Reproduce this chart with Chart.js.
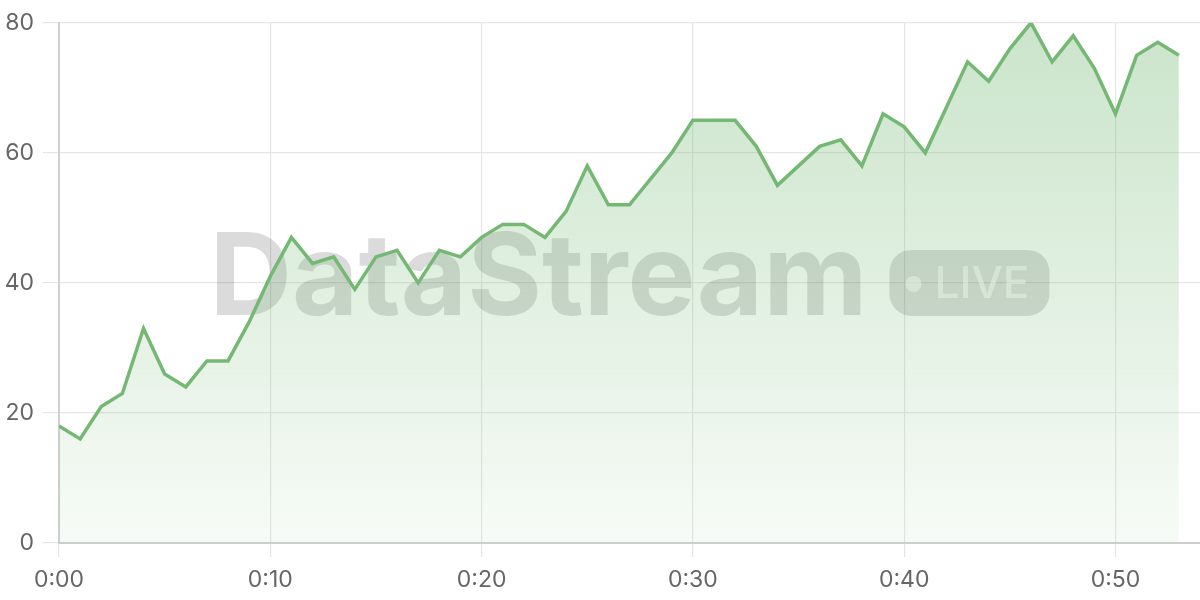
<!DOCTYPE html>
<html>
<head>
<meta charset="utf-8">
<script src="https://cdn.jsdelivr.net/npm/chart.js@4.4.6/dist/chart.umd.min.js"></script>
<style>
  html, body { margin: 0; padding: 0; background: #fff; }
  #wrap { width: 1200px; height: 600px; }
</style>
</head>
<body>
<div id="wrap"><canvas id="c"></canvas></div>
<script>
// minutes since start, one reading per minute
const minutes = [
  0, 1, 2, 3, 4, 5, 6, 7, 8, 9,
  10, 11, 12, 13, 14, 15, 16, 17, 18, 19,
  20, 21, 22, 23, 24, 25, 26, 27, 28, 29,
  30, 31, 32, 33, 34, 35, 36, 37, 38, 39,
  40, 41, 42, 43, 44, 45, 46, 47, 48, 49,
  50, 51, 52, 53,
];
const values = [
  18, 16, 21, 23, 33, 26, 24, 28, 28, 34,
  41, 47, 43, 44, 39, 44, 45, 40, 45, 44,
  47, 49, 49, 47, 51, 58, 52, 52, 56, 60,
  65, 65, 65, 61, 55, 58, 61, 62, 58, 66,
  64, 60, 67, 74, 71, 76, 80, 74, 78, 73,
  66, 75, 77, 75,
];
const xTicks = [0, 10, 20, 30, 40, 50];
const xTickLabels = ['0:00', '0:10', '0:20', '0:30', '0:40', '0:50'];
const yTicks = [0, 20, 40, 60, 80];

const GREEN = 'rgb(116, 184, 116)';
const FONT = 'Inter, "Helvetica Neue", Arial, sans-serif';

// fit a string to a target width by scaling the font size
function fitFont(ctx, text, weight, width) {
  ctx.font = `${weight} 100px ${FONT}`;
  const size = 100 * width / ctx.measureText(text).width;
  ctx.font = `${weight} ${size}px ${FONT}`;
  return size;
}

// big "DataStream • LIVE" mark behind the series
const watermark = {
  id: 'watermark',
  beforeDatasetsDraw(chart) {
    const { ctx, chartArea: a } = chart;
    const cx = (a.left + a.right) / 2;
    const cy = (a.top + a.bottom) / 2;
    ctx.save();
    fitFont(ctx, 'DataStream', 'bold', 658);
    const tw = ctx.measureText('DataStream').width;
    const gap = 22, pw = 160, ph = 66;
    const left = cx - (tw + gap + pw) / 2;
    ctx.fillStyle = 'rgba(0,0,0,0.14)';
    ctx.textBaseline = 'alphabetic';
    ctx.fillText('DataStream', left, cy + 32);

    const px = left + tw + gap, py = cy - ph / 2;
    ctx.beginPath();
    ctx.roundRect(px, py, pw, ph, 22);
    ctx.fill();
    ctx.fillStyle = 'rgba(255,255,255,0.6)';
    ctx.beginPath();
    ctx.arc(px + 24, cy + 1, 8, 0, Math.PI * 2);
    ctx.fill();
    fitFont(ctx, 'LIVE', 500, 95);
    ctx.textBaseline = 'middle';
    ctx.fillText('LIVE', px + 45, cy + 2);
    ctx.restore();
  },
};

const ctx = document.getElementById('c').getContext('2d');
new Chart(ctx, {
  type: 'line',
  data: {
    datasets: [{
      data: minutes.map((m, i) => ({ x: m, y: values[i] })),
      borderColor: GREEN,
      borderWidth: 3.5,
      tension: 0,
      pointRadius: 0,
      fill: 'origin',
      backgroundColor: (c) => {
        const a = c.chart.chartArea;
        if (!a) return 'rgba(116,184,116,0.2)';
        const g = c.chart.ctx.createLinearGradient(0, a.top, 0, a.bottom);
        g.addColorStop(0, 'rgba(116,184,116,0.38)');
        g.addColorStop(1, 'rgba(116,184,116,0.06)');
        return g;
      },
    }],
  },
  options: {
    responsive: true,
    maintainAspectRatio: false,
    animation: false,
    layout: { padding: { top: 19, right: 0, left: 0, bottom: 0 } },
    plugins: { legend: { display: false }, tooltip: { enabled: false } },
    scales: {
      x: {
        type: 'linear',
        min: 0,
        max: 54,
        afterBuildTicks: (s) => { s.ticks = xTicks.map((v) => ({ value: v })); },
        afterFit: (s) => { s.height = 57; },
        ticks: {
          font: { family: FONT, size: 23 },
          color: '#666',
          padding: 9,
          maxRotation: 0,
          callback: (v) => xTickLabels[xTicks.indexOf(v)],
        },
        grid: { color: '#e6e6e6', lineWidth: 1.2, tickLength: 14 },
        border: { color: '#cfcfcf', width: 2 },
      },
      y: {
        min: 0,
        max: 80,
        afterBuildTicks: (s) => { s.ticks = yTicks.map((v) => ({ value: v })); },
        afterFit: (s) => { s.width = 59; },
        ticks: {
          font: { family: FONT, size: 23 },
          color: '#666',
          padding: 9,
        },
        grid: { color: '#e6e6e6', lineWidth: 1.2, tickLength: 16 },
        border: { color: '#cfcfcf', width: 2 },
      },
    },
  },
  plugins: [watermark],
});
</script>
</body>
</html>
